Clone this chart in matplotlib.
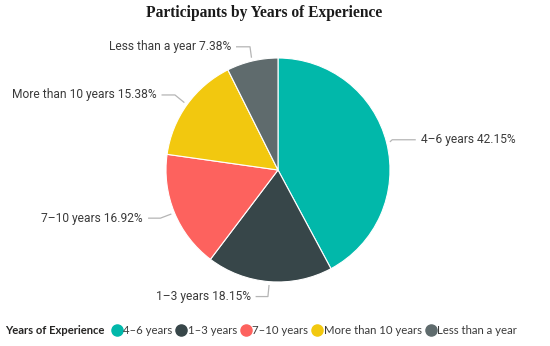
import numpy as np
import matplotlib
matplotlib.use('Agg')
import matplotlib.pyplot as plt
from matplotlib.lines import Line2D

# data
categories = ['4–6 years', '1–3 years', '7–10 years', 'More than 10 years', 'Less than a year']
shares = [42.15, 18.15, 16.92, 15.38, 7.38]
colors = ['#01B8AA', '#374649', '#FD625E', '#F2C80F', '#5F6B6D']

# leader line layout (data units, pie radius = 1): knee point, end of arm
knees = [(1.02, 0.27), (-0.09, -1.13), (-1.05, -0.43), (-0.92, 0.67), (-0.25, 1.10)]
arm_ends = [1.23, -0.20, -1.16, -1.04, -0.375]

W, H = 550, 346
fig = plt.figure(figsize=(W / 100, H / 100), dpi=100)
cx, cy, r = 278, 170, 112
ax = fig.add_axes([(cx - r) / W, (H - cy - r) / H, 2 * r / W, 2 * r / H])

wedges, _ = ax.pie(shares, colors=colors, startangle=90, counterclock=False,
                   wedgeprops={'linewidth': 0.8, 'edgecolor': 'white'})
ax.set_xlim(-1, 1)
ax.set_ylim(-1, 1)
ax.set_aspect('equal')

label_font = {'family': 'Roboto', 'size': 8.65, 'color': '#3b3b3b'}
for w, name, val, knee, xe in zip(wedges, categories, shares, knees, arm_ends):
    ang = np.deg2rad((w.theta1 + w.theta2) / 2)
    ax0, ay0 = 1.03 * np.cos(ang), 1.03 * np.sin(ang)
    ax.plot([ax0, knee[0], xe], [ay0, knee[1], knee[1]], color='#b5b5b5',
            lw=0.9, clip_on=False, solid_capstyle='butt')
    if xe > knee[0]:
        ax.text(xe + 0.045, knee[1], '%s %.2f%%' % (name, val), ha='left',
                va='center', **label_font)
    else:
        ax.text(xe - 0.045, knee[1], '%s %.2f%%' % (name, val), ha='right',
                va='center', **label_font)

fig.text(264 / W, 1 - 13 / H, 'Participants by Years of Experience', ha='center',
         va='center', family='Liberation Serif', weight='bold', size=11.2, color='#1a1a1a')

# legend
fig.text(5 / W, 1 - 330 / H, 'Years of Experience', ha='left', va='center',
         family='Lato', weight='bold', size=8.1, color='#252423')
handles = [Line2D([], [], marker='o', ls='none', markersize=8,
                  markerfacecolor=c, markeredgecolor=c) for c in colors]
fig.legend(handles, categories, loc='center left', bbox_to_anchor=(111 / W, 1 - 330 / H),
           ncol=5, frameon=False, handletextpad=0.05, columnspacing=0.3,
           handlelength=1.0, borderpad=0, borderaxespad=0,
           prop={'family': 'Lato', 'size': 8.2}, labelcolor='#3b3b3b')

fig.savefig('out.png', dpi=100, facecolor='white')
